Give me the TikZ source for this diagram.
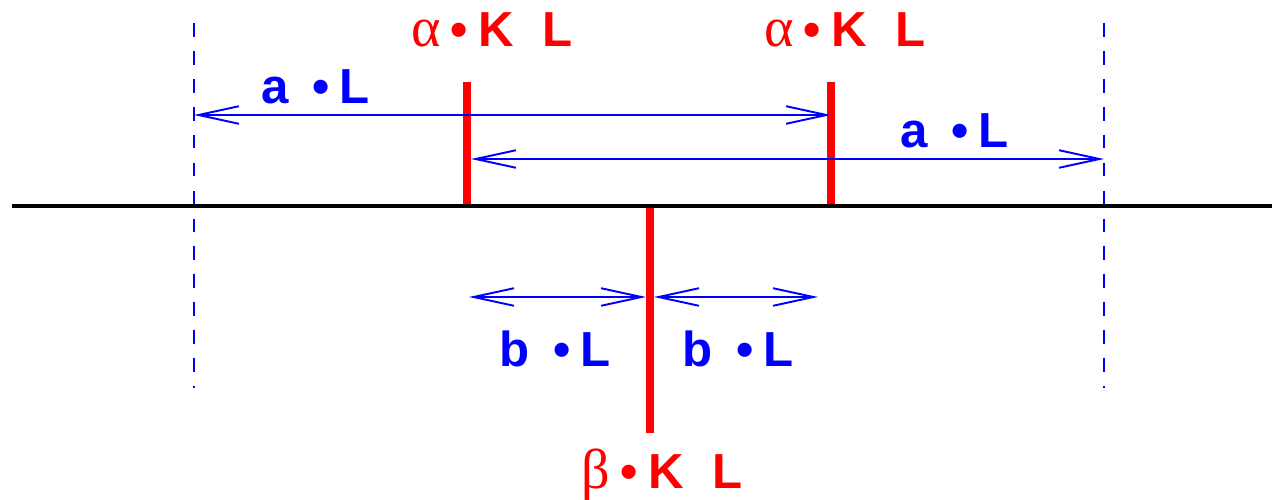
\documentclass[tikz,border=0pt]{standalone}
\usepackage{fontspec}
\setmainfont{Liberation Sans}
\newfontfamily\greekfont{Liberation Serif}
\usetikzlibrary{arrows.meta}
\newcommand\kay[1]{\makebox[22.5pt][l]{\greekfont\mdseries\fontsize{32}{32}\selectfont #1}•\hspace{6pt}K\hspace{16pt}L}
\newcommand\len[1]{#1\hspace{13.5pt}•\hspace{5.5pt}L}

\begin{document}
\begin{tikzpicture}[
  x=0.02cm, y=-0.02cm,
  every node/.style={font=\bfseries\fontsize{28}{32}\selectfont, inner sep=0pt, anchor=base west},
  bar/.style={draw=red, line width=5pt},
  axis/.style={draw=black, line width=2.8pt},
  guide/.style={draw=blue, line width=1.2pt, dash pattern=on 7.8pt off 8.1pt},
  span/.style={draw=blue, line width=1.1pt, {Straight Barb[length=23pt, width=10pt]}-{Straight Barb[length=23pt, width=10pt]}},
  redlbl/.style={text=red},
  bluelbl/.style={text=blue}
]
  \useasboundingbox (0,0) rectangle (1272,500);

  % Guide lines
  \coordinate (gl-top) at (194,23);
  \coordinate (gl-bot) at (194,388);
  \coordinate (gr-top) at (1104,23);
  \coordinate (gr-bot) at (1104,388);
  \draw[guide] (gl-top) -- (gl-bot);
  \draw[guide] (gr-top) -- (gr-bot);

  % Bars
  \coordinate (ka-top) at (467,82);
  \coordinate (ka-bot) at (467,206);
  \coordinate (kb-top) at (831,82);
  \coordinate (kb-bot) at (831,206);
  \coordinate (kc-top) at (650,206);
  \coordinate (kc-bot) at (650,433);
  \draw[bar] (ka-top) -- (ka-bot);
  \draw[bar] (kb-top) -- (kb-bot);
  \draw[bar] (kc-top) -- (kc-bot);

  % Axis
  \coordinate (ax-l) at (12,206);
  \coordinate (ax-r) at (1272,206);
  \draw[axis] (ax-l) -- (ax-r);

  % Spans
  \coordinate (sa-l) at (194,115);
  \coordinate (sa-r) at (831,115);
  \coordinate (sb-l) at (471,159);
  \coordinate (sb-r) at (1104,159);
  \coordinate (sc-l) at (469,297);
  \coordinate (sc-m1) at (646,297);
  \coordinate (sc-m2) at (654,297);
  \coordinate (sc-r) at (818,297);
  \draw[span] (sa-l) -- (sa-r);
  \draw[span] (sb-l) -- (sb-r);
  \draw[span] (sc-l) -- (sc-m1);
  \draw[span] (sc-m2) -- (sc-r);

  % Labels
  \node[redlbl]  (alpha1) at (411,47)    {\kay{α}};
  \node[redlbl]  (alpha2) at (764,47)    {\kay{α}};
  \node[redlbl]  (beta)   at (581,488)   {\kay{β}};
  \node[bluelbl] (al1)    at (261,104)   {\len{a}};
  \node[bluelbl] (al2)    at (900,148)   {\len{a}};
  \node[bluelbl] (bl1)    at (499.5,366) {\len{b}};
  \node[bluelbl] (bl2)    at (682.5,366) {\len{b}};
\end{tikzpicture}
\end{document}
